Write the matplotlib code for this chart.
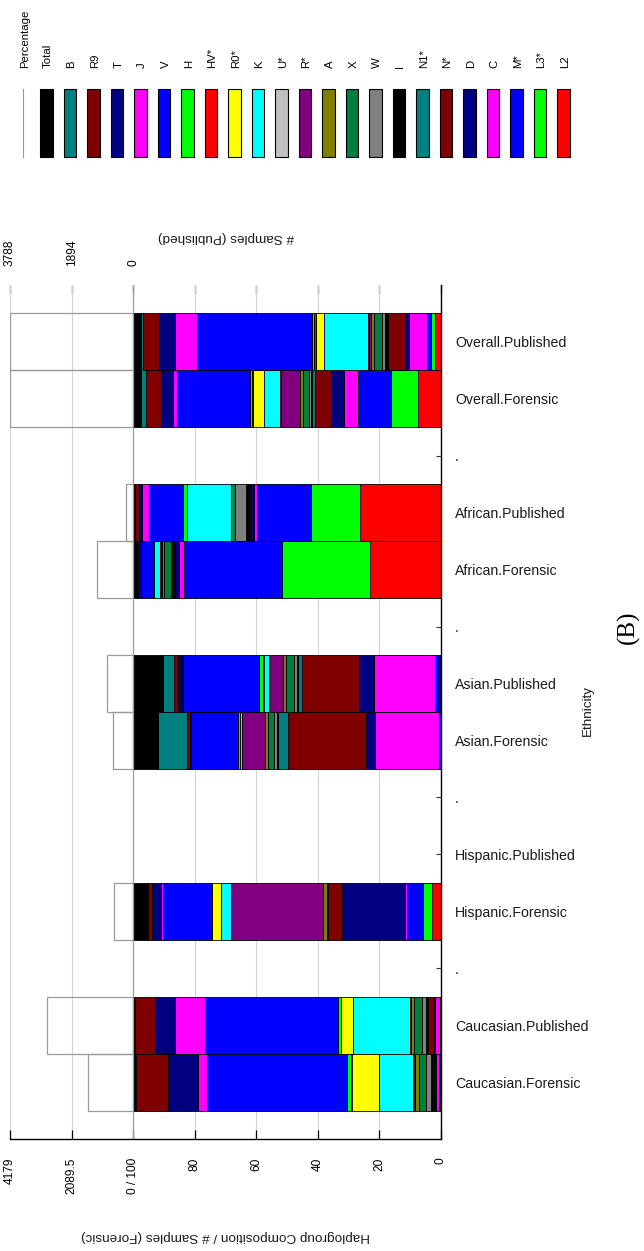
import numpy as np
import matplotlib
matplotlib.use("Agg")
import matplotlib.pyplot as plt
from matplotlib.patches import Rectangle

plt.rcParams['font.family'] = ['Liberation Sans', 'DejaVu Sans']

# rows from bottom to top, "." rows are spacers between ethnic groups
rows = ["Caucasian.Forensic", "Caucasian.Published", ".",
        "Hispanic.Forensic", "Hispanic.Published", ".",
        "Asian.Forensic", "Asian.Published", ".",
        "African.Forensic", "African.Published", ".",
        "Overall.Forensic", "Overall.Published"]

haplogroups = ["Total", "B", "R9", "T", "J", "V", "H", "HV*", "R0*", "K", "U*",
               "R*", "A", "X", "W", "I", "N1*", "N*", "D", "C", "M*", "L3*", "L2"]
hap_colors = ["#000000", "#008080", "#800000", "#000080", "#ff00ff", "#0000ff",
              "#00ff00", "#ff0000", "#ffff00", "#00ffff", "#c0c0c0", "#800080",
              "#808000", "#008040", "#808080", "#000000", "#008080", "#800000",
              "#000080", "#ff00ff", "#0000ff", "#00ff00", "#ff0000"]

# haplogroup composition (%), same order as haplogroups
caucasian_forensic = [0.7, 0.2, 10.3, 9.9, 2.9, 45.4, 1.4, 0.2, 8.7, 11.2, 0.2,
                      0.4, 1.2, 2.4, 1.7, 0.6, 0.2, 0.3, 0.4, 1.1, 0.3, 0.1, 0.2]
caucasian_published = [0.5, 0.0, 6.7, 6.3, 10.0, 43.0, 0.9, 0.2, 3.8, 18.4, 0.2,
                       0.2, 1.1, 2.4, 1.4, 0.5, 0.2, 2.0, 0.1, 1.8, 0.1, 0.1, 0.1]
hispanic_forensic = [4.8, 0.0, 1.3, 3.0, 0.5, 15.7, 0.2, 0.0, 3.0, 3.3, 0.0,
                     29.8, 1.4, 0.2, 0.0, 0.2, 0.0, 4.6, 20.4, 0.5, 5.2, 2.9, 3.0]
hispanic_published = [0.0] * 23
asian_forensic = [8.2, 9.2, 1.2, 0.2, 0.0, 15.1, 0.9, 0.0, 0.0, 0.5, 0.2,
                  7.4, 0.8, 2.0, 0.9, 0.3, 3.5, 25.3, 2.8, 20.9, 0.6, 0.0, 0.0]
asian_published = [9.8, 3.5, 1.3, 1.4, 0.2, 24.6, 1.3, 0.2, 0.2, 1.6, 0.3,
                   4.3, 1.1, 2.4, 0.9, 0.3, 1.3, 18.8, 4.6, 20.0, 1.6, 0.1, 0.2]
african_forensic = [1.2, 0.0, 0.3, 1.1, 0.0, 3.8, 0.5, 0.0, 0.0, 1.8, 0.5,
                    0.3, 0.6, 2.2, 0.3, 0.5, 0.3, 0.3, 1.1, 1.6, 31.8, 28.7, 23.1]
african_published = [0.3, 0.2, 1.3, 1.0, 2.2, 11.2, 1.4, 0.0, 0.0, 14.3, 0.0,
                      0.0, 0.0, 1.2, 3.6, 0.5, 0.3, 0.3, 1.3, 1.1, 17.5, 16.0, 26.3]
overall_forensic = [2.5, 1.6, 4.8, 4.1, 1.3, 23.6, 0.8, 0.2, 3.7, 5.2, 0.2,
                    6.2, 0.9, 2.0, 0.8, 0.3, 0.8, 5.4, 4.0, 4.7, 10.6, 8.9, 7.4]
overall_published = [2.5, 0.8, 5.2, 5.0, 7.4, 37.2, 0.8, 0.4, 2.8, 14.2, 0.3,
                     0.6, 1.1, 2.5, 1.1, 0.5, 0.5, 5.4, 1.3, 5.7, 1.6, 1.1, 2.0]

# number of samples per row
n_forensic = {"Caucasian": 1548, "Hispanic": 645, "Asian": 699, "African": 1222, "Overall": 4179}
n_published = {"Caucasian": 2665, "Hispanic": 0, "Asian": 818, "African": 234, "Overall": 3788}

composition = {
    "Caucasian.Forensic": caucasian_forensic, "Caucasian.Published": caucasian_published,
    "Hispanic.Forensic": hispanic_forensic, "Hispanic.Published": hispanic_published,
    "Asian.Forensic": asian_forensic, "Asian.Published": asian_published,
    "African.Forensic": african_forensic, "African.Published": african_published,
    "Overall.Forensic": overall_forensic, "Overall.Published": overall_published,
}

ypos = np.arange(len(rows))
comp = np.array([composition.get(r, [0.0] * 23) for r in rows])

max_f = n_forensic["Overall"]
max_p = n_published["Overall"]
counts = []
for r in rows:
    if r == ".":
        counts.append(0.0)
    else:
        grp, src = r.split(".")
        counts.append(n_forensic[grp] / max_f * 40 if src == "Forensic"
                      else n_published[grp] / max_p * 40)
counts = np.array(counts)

W, H = 644, 1251
fig = plt.figure(figsize=(W / 100, H / 100), dpi=100)
ax = fig.add_axes([10 / W, (H - 1139) / H, 431 / W, 854 / H])
ax.set_axisbelow(True)

# stacked composition bars, L2 starts at 0 on the right
left = np.zeros(len(rows))
for j in range(len(haplogroups) - 1, -1, -1):
    w = comp[:, j]
    bars = ax.barh(ypos, w, left=left, height=1.0, color=hap_colors[j],
                   edgecolor="black", linewidth=0.6)
    for p in bars:
        if p.get_width() == 0:
            p.set_visible(False)
    left += w

# sample count boxes beyond 100 %
boxes = ax.barh(ypos, counts, left=100, height=1.0, facecolor="none",
                edgecolor="#9a9a9a", linewidth=0.9)
for p in boxes:
    if p.get_width() == 0:
        p.set_visible(False)

ax.set_xlim(140, 0)
ax.set_ylim(-1, 14)

xt = [140, 120, 100, 80, 60, 40, 20, 0]
ax.set_xticks(xt)
ax.set_xticklabels([f"{max_f:g}", f"{max_f / 2:g}", "0 / 100", "80", "60", "40", "20", "0"],
                   rotation=90, fontsize=8.6)
ax.tick_params(axis="x", direction="in", length=6.5, width=0.9, pad=13.5, colors="black")
ax.grid(axis="x", color="#d4d4d4", linewidth=0.8)
ax.axvline(100, color="#a0a0a0", linewidth=0.9, zorder=0.6)

ax.yaxis.tick_right()
ax.set_yticks(ypos)
ax.set_yticklabels(rows, fontsize=10.2, color="#1a1a1a")
ax.tick_params(axis="y", direction="in", length=3.6, width=0.8, pad=10, colors="#333333")
for lab in ax.get_yticklabels():
    lab.set_color("#1a1a1a")

for s in ["top", "left"]:
    ax.spines[s].set_visible(False)
ax.spines["right"].set_linewidth(1.0)
ax.spines["bottom"].set_linewidth(1.0)

# top axis: number of published samples
sec = ax.secondary_xaxis("top")
sec.set_xticks(xt)
sec.set_xticklabels([f"{max_p:g}", f"{max_p / 2:g}", "0", "", "", "", "", ""],
                    rotation=90, fontsize=8.6)
sec.tick_params(direction="in", length=6.5, width=0.9, pad=14)
for s in sec.spines.values():
    s.set_visible(False)

fig.text(225.5 / W, 1 - 1236 / H, "Haplogroup Composition / # Samples (Forensic)",
         rotation=180, ha="center", va="center", fontsize=9.7, color="#1a1a1a")
fig.text(225.5 / W, 1 - 237 / H, "# Samples (Published)",
         rotation=180, ha="center", va="center", fontsize=9.7, color="#1a1a1a")
fig.text(588 / W, 1 - 711 / H, "Ethnicity", rotation=90, ha="center", va="center",
         fontsize=9.7, color="#1a1a1a")
fig.text(628 / W, 1 - 627 / H, "(B)", rotation=90, ha="center", va="center",
         fontsize=18, family=["Liberation Serif", "DejaVu Serif"])

# legend strip along the top
lax = fig.add_axes([0, 0, 1, 1])
lax.set_xlim(0, W)
lax.set_ylim(H, 0)
lax.axis("off")
x0, step = 23.0, 23.5
lax.plot([x0, x0], [89, 157], color="#9a9a9a", linewidth=0.8)
lax.text(x0 + 2, 68, "Percentage", rotation=90, ha="center", va="bottom", fontsize=8.2)
for k, (name, col) in enumerate(zip(haplogroups, hap_colors)):
    xc = x0 + step * (k + 1)
    lax.add_patch(Rectangle((xc - 6.3, 89), 12.6, 68, facecolor=col,
                            edgecolor="black", linewidth=0.8))
    lax.text(xc + 1.5, 68, name, rotation=90, ha="center", va="bottom", fontsize=8.2)

fig.savefig("out.png", dpi=100)
